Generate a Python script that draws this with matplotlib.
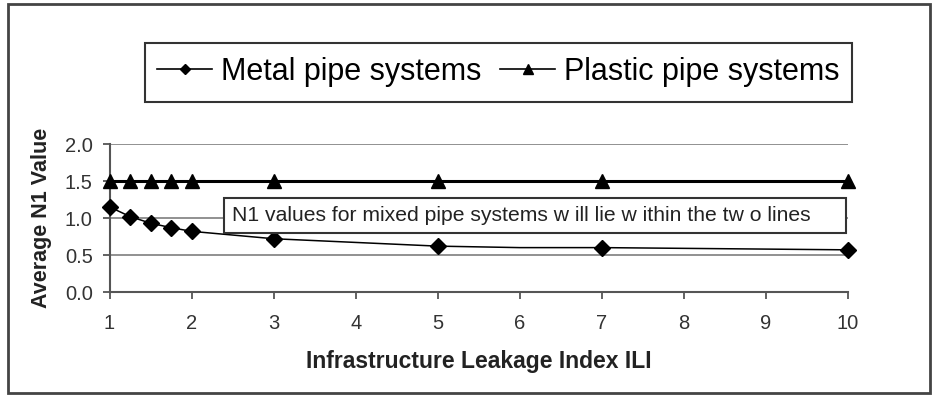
import matplotlib
matplotlib.use("Agg")
import matplotlib.pyplot as plt
from matplotlib.patches import Rectangle
from matplotlib.lines import Line2D

plt.rcParams['font.family'] = ['Liberation Sans', 'DejaVu Sans']

# ILI values where N1 was estimated
ili_metal = [1, 1.25, 1.5, 1.75, 2, 3, 4, 5, 6, 7, 8, 9, 10]
n1_metal = [1.15, 1.02, 0.93, 0.87, 0.82, 0.72, 0.67, 0.62, 0.60, 0.60, 0.59, 0.58, 0.57]
metal_marked = [0, 1, 2, 3, 4, 5, 7, 9, 12]

ili_plastic = [1, 1.25, 1.5, 1.75, 2, 3, 5, 7, 10]
n1_plastic = [1.5, 1.5, 1.5, 1.5, 1.5, 1.5, 1.5, 1.5, 1.5]

xticks = [1, 2, 3, 4, 5, 6, 7, 8, 9, 10]
yticks = [0.0, 0.5, 1.0, 1.5, 2.0]
labels = ['Metal pipe systems', 'Plastic pipe systems']
note = "N1 values for mixed pipe systems w ill lie w ithin the tw o lines"

fig = plt.figure(figsize=(9.45, 3.96), dpi=100)
ax = fig.add_axes([0.1159, 0.2626, 0.7815, 0.3737])

gray = '#555555'
for y in yticks[1:]:
    ax.axhline(y, color='#888888', lw=1.3, zorder=1)

ax.plot(ili_metal, n1_metal, color='black', lw=1.1, marker='D', ms=8,
        markevery=metal_marked, clip_on=False, zorder=3)
ax.plot(ili_plastic, n1_plastic, color='black', lw=2.2, marker='^', ms=10,
        clip_on=False, zorder=3)

ax.set_xlim(1, 10)
ax.set_ylim(0, 2)
ax.set_xticks(xticks)
ax.set_yticks(yticks)
ax.set_yticklabels(['%.1f' % v for v in yticks])
ax.tick_params(axis='both', direction='out', length=5, width=1.3, color=gray,
               labelsize=14.5, labelcolor='#333333', pad=7)
ax.tick_params(axis='x', pad=11)
for s in ['top', 'right']:
    ax.spines[s].set_visible(False)
for s in ['left', 'bottom']:
    ax.spines[s].set_color(gray)
    ax.spines[s].set_linewidth(1.5)

ax.set_xlabel('Infrastructure Leakage Index ILI', fontsize=16.5, fontweight='bold',
              color='#222222', labelpad=12)
ax.set_ylabel('Average N1 Value', fontsize=15.5, fontweight='bold',
              color='#222222', labelpad=9)

# note box between the two lines
ax.add_patch(Rectangle((2.40, 0.80), 7.58, 0.47, facecolor='white',
                       edgecolor='#333333', lw=1.5, zorder=4))
ax.text(2.49, 1.035, note, fontsize=15.2, color='#222222', va='center',
        ha='left', zorder=5)

# legend with its own frame, thin handles
fig.patches.append(Rectangle((0.1534, 1 - 102 / 396), 0.748, 59 / 396,
                             transform=fig.transFigure,
                             facecolor='white', edgecolor='#333333', lw=1.5))
handles = [Line2D([], [], color='black', lw=1.2, marker='D', ms=5),
           Line2D([], [], color='black', lw=1.2, marker='^', ms=7)]
fig.legend(handles, labels, loc='center', bbox_to_anchor=(0.5275, 1 - 72 / 396),
           ncol=2, frameon=False, fontsize=22, handlelength=1.8,
           handletextpad=0.3, columnspacing=0.6)

# outer border
fig.patches.append(Rectangle((8 / 945, 1 - 393 / 396), 922 / 945, 389 / 396,
                             transform=fig.transFigure, fill=False,
                             edgecolor='#444444', lw=2))

fig.savefig('out.png', dpi=100)
